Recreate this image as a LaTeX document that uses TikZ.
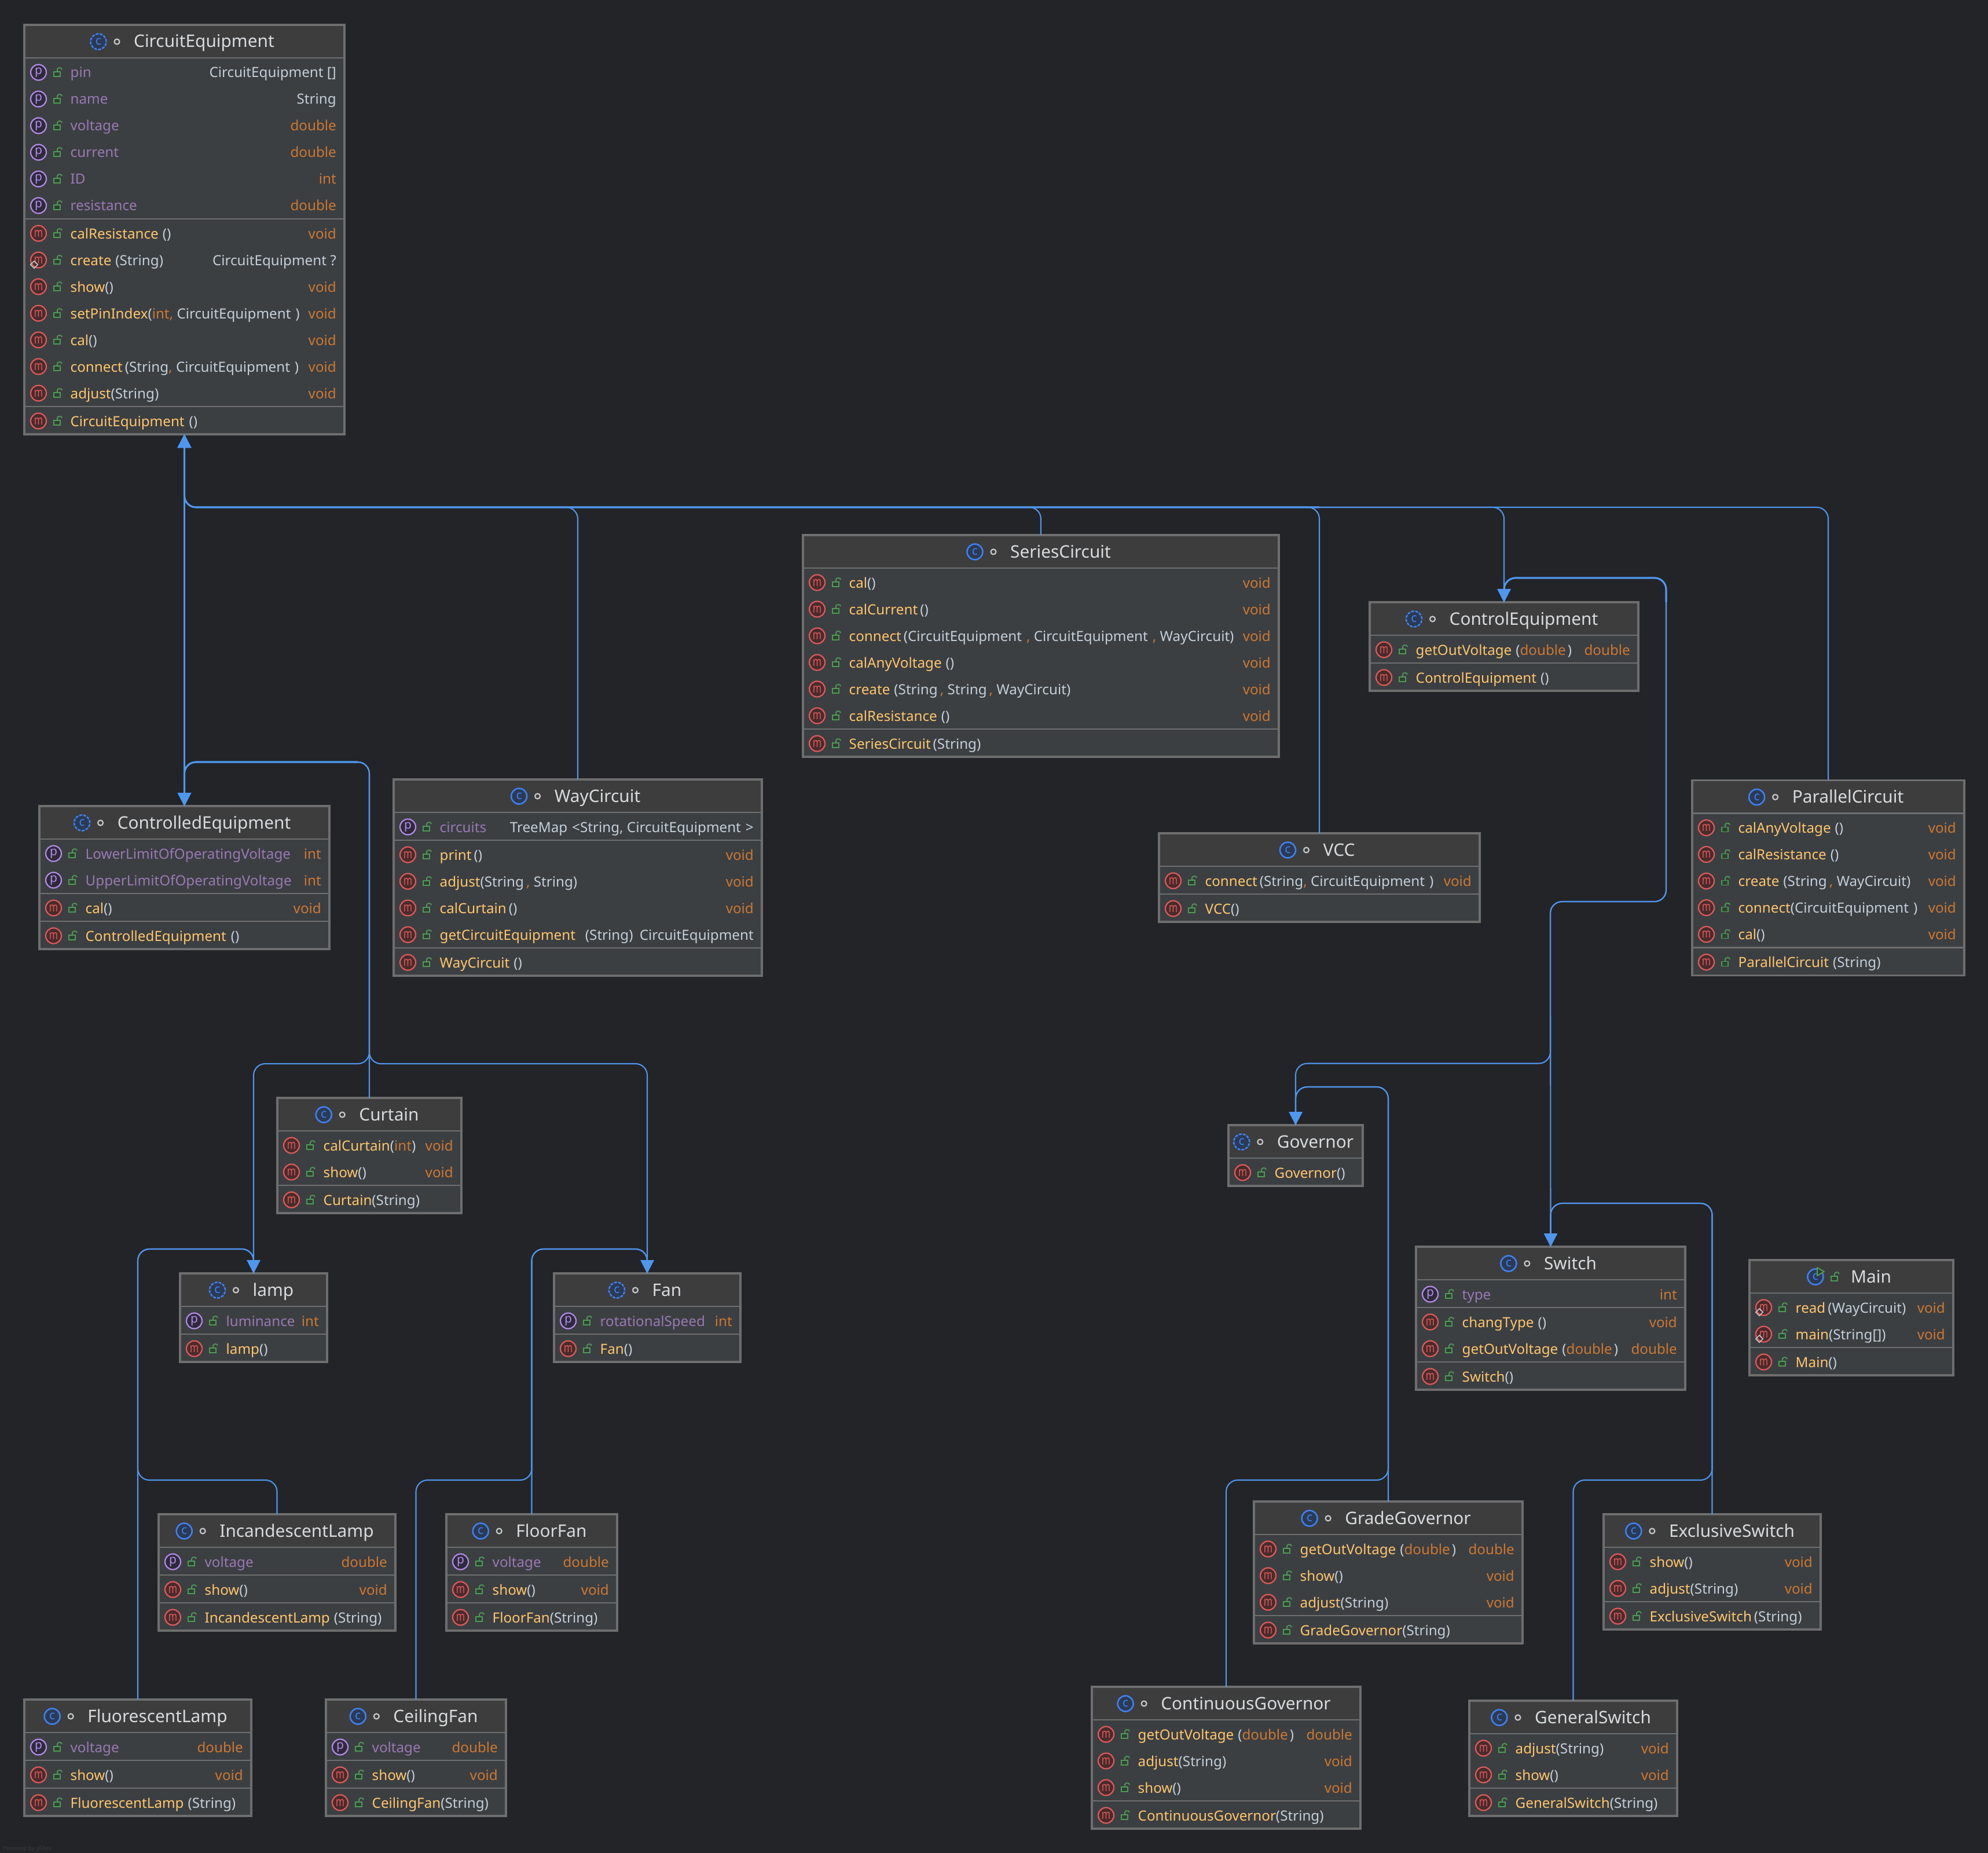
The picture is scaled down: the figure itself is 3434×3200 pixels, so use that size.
\documentclass[tikz,border=0pt]{standalone}
\usepackage{fontspec}
\setmainfont{Noto Sans}
\usetikzlibrary{arrows.meta,shapes.geometric}
\definecolor{bgc}{HTML}{232427}
\definecolor{bodyc}{HTML}{3C3F42}
\definecolor{titlec}{HTML}{3D3D3D}
\definecolor{framec}{HTML}{6E6E6E}
\definecolor{linkc}{HTML}{4F96EE}
\definecolor{propc}{HTML}{9A78B4}
\definecolor{methc}{HTML}{FFC66D}
\definecolor{typec}{HTML}{C3CFDA}
\definecolor{primc}{HTML}{CC7832}
\definecolor{titletxt}{HTML}{D8DBDE}
\definecolor{lockc}{HTML}{4E9A55}
\definecolor{lockf}{HTML}{2F4133}
\definecolor{pring}{HTML}{B58BE8}
\definecolor{pfill}{HTML}{2E2A3B}
\definecolor{mring}{HTML}{E05A5A}
\definecolor{mfill}{HTML}{4A2B2C}
\definecolor{cring}{HTML}{4080EE}
\definecolor{cfill}{HTML}{2B3A55}
\definecolor{ringc}{HTML}{C4C7CA}
\definecolor{faintc}{HTML}{3A3B3E}
\tikzset{
  classbox/.style={fill=bodyc,inner sep=0pt,outer sep=0pt,anchor=north west},
  frameline/.style={draw=framec,line width=3.2pt},
  divline/.style={draw=framec,line width=2.2pt},
  rowleft/.style={anchor=base west,inner sep=0pt,font=\fontsize{24.2}{28}\selectfont},
  rowright/.style={anchor=base east,inner sep=0pt,font=\fontsize{24.2}{28}\selectfont},
  titletext/.style={anchor=base,inner sep=0pt,text=titletxt,font=\fontsize{29.8}{32}\selectfont},
  picon/.style={circle,inner sep=0pt,minimum size=27pt,line width=2.2pt,draw=pring,fill=pfill,text=pring,font=\fontsize{21}{21}\selectfont},
  micon/.style={circle,inner sep=0pt,minimum size=27pt,line width=2.2pt,draw=mring,fill=mfill,text=mring,font=\fontsize{20}{20}\selectfont},
  cicon/.style={circle,inner sep=0pt,minimum size=27pt,line width=2.6pt,draw=cring,fill=cfill,text=cring,font=\fontsize{21}{21}\selectfont},
  aicon/.style={cicon,dash pattern=on 5pt off 2pt},
  ringicon/.style={circle,inner sep=0pt,minimum size=9pt,line width=2.2pt,draw=ringc},
  staticmark/.style={diamond,inner sep=0pt,minimum size=13pt,line width=1.6pt,draw=ringc},
  lockst/.style={draw=lockc,fill=lockf,line width=1.8pt},
  lockicon/.pic={
    \draw[lockst] (0,-1) rectangle (11,7);
    \draw[lockst,fill=none] (6,-1) -- (6,-5) .. controls (6,-9) and (14,-9) .. (14,-5);
  },
  runicon/.pic={\draw[draw=lockc,fill=lockf,line width=2pt,line join=round] (3,-16) -- (15,-9) -- (3,-2) -- cycle;},
  link/.style={draw=linkc,line width=2.1pt,rounded corners=20pt},
  linkarrow/.style={link,-{Triangle[length=23pt,width=23pt]}},
  linkshared/.style={linkarrow,line width=3.2pt},
}
\newcommand\mn[1]{\textcolor{methc}{#1}}
\newcommand\pn[1]{\textcolor{propc}{#1}}
\newcommand\ty[1]{\textcolor{typec}{#1}}
\newcommand\pr[1]{\textcolor{primc}{#1}}
\newcommand\gA{\kern7pt}
\newcommand\gB{\kern4pt}
\newcommand\gC{\kern8pt}
\newcommand\gD{\kern3pt}
\newcommand\mglyph{\scalebox{.82}[1.1]{m}}
\newcommand\pglyph{p}
\newcount\rowno
% id, left, top, right, bottom, title, kind (cicon/aicon), run mark (0/1)
\newcommand\ClassBox[8]{%
  \def\bid{#1}\def\bl{#2}\def\bt{#3}\def\br{#4}\def\bb{#5}%
  \pgfmathsetmacro\bw{#4-#2}\pgfmathsetmacro\bh{#5-#3}%
  \node[classbox,minimum width=\bw pt,minimum height=\bh pt] (#1) at (#2,#3) {};
  \pgfmathsetmacro\cy{#3+57}%
  \fill[titlec] (#2,#3) rectangle (#4,\cy);
  \draw[frameline] (#1.north west) rectangle (#1.south east);
  \pgfmathsetmacro\tx{(#2+#4)/2+34}\pgfmathsetmacro\tb{#3+39}\pgfmathsetmacro\tm{#3+29}%
  \node[titletext] (#1-t) at (\tx,\tb) {#6};
  \coordinate (#1-m) at (\tx,\tm);
  \node[#7,xshift=-61pt] (#1-k) at (#1-t.west |- #1-m) {c};
  \ifnum#8=1
    \pic[xshift=-61pt] at (#1-t.west |- #1-m) {runicon};
    \pic[xshift=-34pt] at (#1-t.west |- #1-m) {lockicon};
  \else
    \node[ringicon,xshift=-29pt] (#1-v) at (#1-t.west |- #1-m) {};
  \fi
}
\newcommand\Sec{%
  \draw[divline] (\bl,\cy) -- (\br,\cy);
  \pgfmathsetmacro\cy{\cy+2}%
}
% kind p/m, static 0/1, left text, right text
\newcommand\Row[4]{%
  \global\advance\rowno by 1
  \pgfmathsetmacro\ry{\cy+23}\pgfmathsetmacro\rb{\ry+9}%
  \pgfmathsetmacro\ix{\bl+24.5}\pgfmathsetmacro\lx{\bl+51}\pgfmathsetmacro\nx{\bl+79.5}\pgfmathsetmacro\ex{\br-14}%
  \node[#1icon] (\bid-i\the\rowno) at (\ix,\ry) {\csname #1glyph\endcsname};
  \ifnum#2=1 \node[staticmark] (\bid-s\the\rowno) at (\bl+17,\ry+8) {}; \fi
  \pic at (\lx,\ry) {lockicon};
  \node[rowleft] (\bid-l\the\rowno) at (\nx,\rb) {#3};
  \node[rowright] (\bid-r\the\rowno) at (\ex,\rb) {#4};
  \pgfmathsetmacro\cy{\cy+46}%
}
\begin{document}
\begin{tikzpicture}[x=1pt,y=-1pt]
\useasboundingbox (0,0) rectangle (3434,3200);
\fill[bgc] (0,0) rectangle (3434,3200);
\node[anchor=base west,inner sep=0pt,text=faintc,font=\fontsize{10}{12}\selectfont] (credit) at (5,3195) {Powered by yFiles};
% ---- named helper coordinates of the routes
\coordinate (busTop) at (0,876);
\coordinate (ctlA) at (2878,998);
\coordinate (ctlB) at (2678,1557);
\coordinate (ctlFork) at (2678,1836.5);
\coordinate (govBus) at (0,1877);
\coordinate (swBus) at (0,2078);
\coordinate (lowBus) at (0,2556);
\coordinate (ctdBus) at (0,1316);
\coordinate (ctdFork) at (638,1837);
\coordinate (ctdOver) at (618,1316);
\coordinate (leafBus) at (0,2157);

\ClassBox{ce}{42}{43}{595}{750}{CircuitEquipment}{aicon}{0}
\Sec
\Row{p}{0}{\pn{pin}}{\ty{CircuitEquipment []}}
\Row{p}{0}{\pn{name}}{\ty{String}}
\Row{p}{0}{\pn{voltage}}{\pr{double}}
\Row{p}{0}{\pn{current}}{\pr{double}}
\Row{p}{0}{\pn{ID}}{\pr{int}}
\Row{p}{0}{\pn{resistance}}{\pr{double}}
\Sec
\Row{m}{0}{\mn{calResistance}\gA\ty{()}}{\pr{void}}
\Row{m}{1}{\mn{create}\gA\ty{(String)}}{\ty{CircuitEquipment ?}}
\Row{m}{0}{\mn{show}\ty{()}}{\pr{void}}
\Row{m}{0}{\mn{setPinIndex}\ty{(}\pr{int,} \ty{CircuitEquipment\gC)}}{\pr{void}}
\Row{m}{0}{\mn{cal}\ty{()}}{\pr{void}}
\Row{m}{0}{\mn{connect}\gB\ty{(String}\pr{,} \ty{CircuitEquipment\gC)}}{\pr{void}}
\Row{m}{0}{\mn{adjust}\ty{(String)}}{\pr{void}}
\Sec
\Row{m}{0}{\mn{CircuitEquipment}\gC\ty{()}}{}

\ClassBox{ser}{1387}{924}{2209}{1307}{SeriesCircuit}{cicon}{0}
\Sec
\Row{m}{0}{\mn{cal}\ty{()}}{\pr{void}}
\Row{m}{0}{\mn{calCurrent}\gB\ty{()}}{\pr{void}}
\Row{m}{0}{\mn{connect}\gB\ty{(CircuitEquipment\gC}\pr{,} \ty{CircuitEquipment\gC}\pr{,} \ty{WayCircuit)}}{\pr{void}}
\Row{m}{0}{\mn{calAnyVoltage}\gA\ty{()}}{\pr{void}}
\Row{m}{0}{\mn{create}\gA\ty{(String\gB}\pr{,} \ty{String\gB}\pr{,} \ty{WayCircuit)}}{\pr{void}}
\Row{m}{0}{\mn{calResistance}\gA\ty{()}}{\pr{void}}
\Sec
\Row{m}{0}{\mn{SeriesCircuit}\gB\ty{(String)}}{}

\ClassBox{ctl}{2366}{1040}{2830}{1193}{ControlEquipment}{aicon}{0}
\Sec
\Row{m}{0}{\mn{getOutVoltage}\gA\ty{(}\pr{double}\gD\ty{)}}{\pr{double}}
\Sec
\Row{m}{0}{\mn{ControlEquipment}\gA\ty{()}}{}

\ClassBox{cte}{68}{1392}{569}{1639}{ControlledEquipment}{aicon}{0}
\Sec
\Row{p}{0}{\pn{LowerLimitOfOperatingVoltage}}{\pr{int}}
\Row{p}{0}{\pn{UpperLimitOfOperatingVoltage}}{\pr{int}}
\Sec
\Row{m}{0}{\mn{cal}\ty{()}}{\pr{void}}
\Sec
\Row{m}{0}{\mn{ControlledEquipment}\gC\ty{()}}{}

\ClassBox{way}{680}{1346}{1316}{1685}{WayCircuit}{cicon}{0}
\Sec
\Row{p}{0}{\pn{circuits}}{\ty{TreeMap\gC<String, CircuitEquipment\gC>}}
\Sec
\Row{m}{0}{\mn{print}\gB\ty{()}}{\pr{void}}
\Row{m}{0}{\mn{adjust}\ty{(String\gB}\pr{,} \ty{String)}}{\pr{void}}
\Row{m}{0}{\mn{calCurtain}\gB\ty{()}}{\pr{void}}
\Row{m}{0}{\mn{getCircuitEquipment}\kern17pt\ty{(String)}}{\ty{CircuitEquipment}}
\Sec
\Row{m}{0}{\mn{WayCircuit}\gA\ty{()}}{}

\ClassBox{par}{2923}{1347.5}{3393}{1684.5}{ParallelCircuit}{cicon}{0}
\Sec
\Row{m}{0}{\mn{calAnyVoltage}\gA\ty{()}}{\pr{void}}
\Row{m}{0}{\mn{calResistance}\gA\ty{()}}{\pr{void}}
\Row{m}{0}{\mn{create}\gA\ty{(String\gB}\pr{,} \ty{WayCircuit)}}{\pr{void}}
\Row{m}{0}{\mn{connect}\ty{(CircuitEquipment\gC)}}{\pr{void}}
\Row{m}{0}{\mn{cal}\ty{()}}{\pr{void}}
\Sec
\Row{m}{0}{\mn{ParallelCircuit}\gA\ty{(String)}}{}

\ClassBox{vcc}{2002}{1439}{2556}{1592}{VCC}{cicon}{0}
\Sec
\Row{m}{0}{\mn{connect}\gB\ty{(String}\pr{,} \ty{CircuitEquipment\gC)}}{\pr{void}}
\Sec
\Row{m}{0}{\mn{VCC}\ty{()}}{}

\ClassBox{cur}{479}{1896}{797}{2095}{Curtain}{cicon}{0}
\Sec
\Row{m}{0}{\mn{calCurtain}\ty{(}\pr{int}\ty{)}}{\pr{void}}
\Row{m}{0}{\mn{show}\ty{()}}{\pr{void}}
\Sec
\Row{m}{0}{\mn{Curtain}\ty{(String)}}{}

\ClassBox{gov}{2122}{1943}{2354}{2048}{Governor}{aicon}{0}
\Sec
\Row{m}{0}{\mn{Governor}\ty{()}}{}

\ClassBox{lmp}{311}{2199}{565}{2352}{lamp}{aicon}{0}
\Sec
\Row{p}{0}{\pn{luminance}}{\pr{int}}
\Sec
\Row{m}{0}{\mn{lamp}\ty{()}}{}

\ClassBox{fan}{957}{2199}{1279}{2352}{Fan}{aicon}{0}
\Sec
\Row{p}{0}{\pn{rotationalSpeed}}{\pr{int}}
\Sec
\Row{m}{0}{\mn{Fan}\ty{()}}{}

\ClassBox{swi}{2446}{2153}{2911}{2400}{Switch}{cicon}{0}
\Sec
\Row{p}{0}{\pn{type}}{\pr{int}}
\Sec
\Row{m}{0}{\mn{changType}\gA\ty{()}}{\pr{void}}
\Row{m}{0}{\mn{getOutVoltage}\gA\ty{(}\pr{double}\gD\ty{)}}{\pr{double}}
\Sec
\Row{m}{0}{\mn{Switch}\ty{()}}{}

\ClassBox{mai}{3022}{2176}{3374}{2375}{Main}{cicon}{1}
\Sec
\Row{m}{1}{\mn{read}\gB\ty{(WayCircuit)}}{\pr{void}}
\Row{m}{1}{\mn{main}\ty{(String[])}}{\pr{void}}
\Sec
\Row{m}{0}{\mn{Main}\ty{()}}{}

\ClassBox{inc}{274}{2615}{683}{2816}{IncandescentLamp}{cicon}{0}
\Sec
\Row{p}{0}{\pn{voltage}}{\pr{double}}
\Sec
\Row{m}{0}{\mn{show}\ty{()}}{\pr{void}}
\Sec
\Row{m}{0}{\mn{IncandescentLamp}\gA\ty{(String)}}{}

\ClassBox{flo}{771}{2615}{1066}{2816}{FloorFan}{cicon}{0}
\Sec
\Row{p}{0}{\pn{voltage}}{\pr{double}}
\Sec
\Row{m}{0}{\mn{show}\ty{()}}{\pr{void}}
\Sec
\Row{m}{0}{\mn{FloorFan}\ty{(String)}}{}

\ClassBox{flu}{42}{2935}{434}{3136}{FluorescentLamp}{cicon}{0}
\Sec
\Row{p}{0}{\pn{voltage}}{\pr{double}}
\Sec
\Row{m}{0}{\mn{show}\ty{()}}{\pr{void}}
\Sec
\Row{m}{0}{\mn{FluorescentLamp}\gA\ty{(String)}}{}

\ClassBox{cei}{563}{2935}{874}{3136}{CeilingFan}{cicon}{0}
\Sec
\Row{p}{0}{\pn{voltage}}{\pr{double}}
\Sec
\Row{m}{0}{\mn{show}\ty{()}}{\pr{void}}
\Sec
\Row{m}{0}{\mn{CeilingFan}\ty{(String)}}{}

\ClassBox{gra}{2166}{2593}{2630}{2838}{GradeGovernor}{cicon}{0}
\Sec
\Row{m}{0}{\mn{getOutVoltage}\gA\ty{(}\pr{double}\gD\ty{)}}{\pr{double}}
\Row{m}{0}{\mn{show}\ty{()}}{\pr{void}}
\Row{m}{0}{\mn{adjust}\ty{(String)}}{\pr{void}}
\Sec
\Row{m}{0}{\mn{GradeGovernor}\ty{(String)}}{}

\ClassBox{exc}{2770}{2615}{3145}{2814}{ExclusiveSwitch}{cicon}{0}
\Sec
\Row{m}{0}{\mn{show}\ty{()}}{\pr{void}}
\Row{m}{0}{\mn{adjust}\ty{(String)}}{\pr{void}}
\Sec
\Row{m}{0}{\mn{ExclusiveSwitch}\gB\ty{(String)}}{}

\ClassBox{con}{1886}{2913}{2350}{3158}{ContinuousGovernor}{cicon}{0}
\Sec
\Row{m}{0}{\mn{getOutVoltage}\gA\ty{(}\pr{double}\gD\ty{)}}{\pr{double}}
\Row{m}{0}{\mn{adjust}\ty{(String)}}{\pr{void}}
\Row{m}{0}{\mn{show}\ty{()}}{\pr{void}}
\Sec
\Row{m}{0}{\mn{ContinuousGovernor}\ty{(String)}}{}

\ClassBox{gen}{2538}{2937}{2897}{3136}{GeneralSwitch}{cicon}{0}
\Sec
\Row{m}{0}{\mn{adjust}\ty{(String)}}{\pr{void}}
\Row{m}{0}{\mn{show}\ty{()}}{\pr{void}}
\Sec
\Row{m}{0}{\mn{GeneralSwitch}\ty{(String)}}{}

% ---- connectors
\draw[linkarrow] (way.north) |- (ce.south |- busTop) -- (ce.south);
\draw[linkarrow] (ser.north) |- (ce.south |- busTop) -- (ce.south);
\draw[linkarrow] (vcc.north) |- (ce.south |- busTop) -- (ce.south);
\draw[linkarrow] (ctl.north) |- (ce.south |- busTop) -- (ce.south);
\draw[linkarrow] (par.north) |- (ce.south |- busTop) -- (ce.south);
\draw[link,rounded corners=0pt,-{Triangle[length=23pt,width=23pt]}] (cte.north) -- (ce.south);
\draw[linkshared] (vcc.north |- busTop) -- (ce.south |- busTop) -- (ce.south);

\draw[linkarrow] (cur.north) |- (cte.north |- ctdBus) -- (cte.north);
\draw[linkarrow] (lmp.north) |- (ctdFork) |- (cte.north |- ctdBus) -- (cte.north);
\draw[linkarrow] (fan.north) |- (ctdFork) |- (cte.north |- ctdBus) -- (cte.north);
\draw[linkshared] (ctdOver) -- (cte.north |- ctdBus) -- (cte.north);

\draw[linkarrow] (gov.north) |- (ctlFork) -- (ctlB) -| (ctlA) -| (ctl.north);
\draw[linkarrow] (swi.north) -- (ctlB) -| (ctlA) -| (ctl.north);
\draw[linkshared] (ctlA |- ctl.north) -- (ctlA) -| (ctl.north);

\draw[linkarrow] (gra.north) |- (gov.north |- govBus) -- (gov.north);
\draw[linkarrow] (con.north) |- (gra.north |- lowBus) |- (gov.north |- govBus) -- (gov.north);

\draw[linkarrow] (exc.north) |- (swi.north |- swBus) -- (swi.north);
\draw[linkarrow] (gen.north) |- (exc.north |- lowBus) |- (swi.north |- swBus) -- (swi.north);

\draw[linkarrow] (flu.north) |- (lmp.north |- leafBus) -- (lmp.north);
\draw[linkarrow] (inc.north) |- (flu.north |- lowBus) |- (lmp.north |- leafBus) -- (lmp.north);

\draw[linkarrow] (flo.north) |- (fan.north |- leafBus) -- (fan.north);
\draw[linkarrow] (cei.north) |- (flo.north |- lowBus) |- (fan.north |- leafBus) -- (fan.north);
\end{tikzpicture}
\end{document}
